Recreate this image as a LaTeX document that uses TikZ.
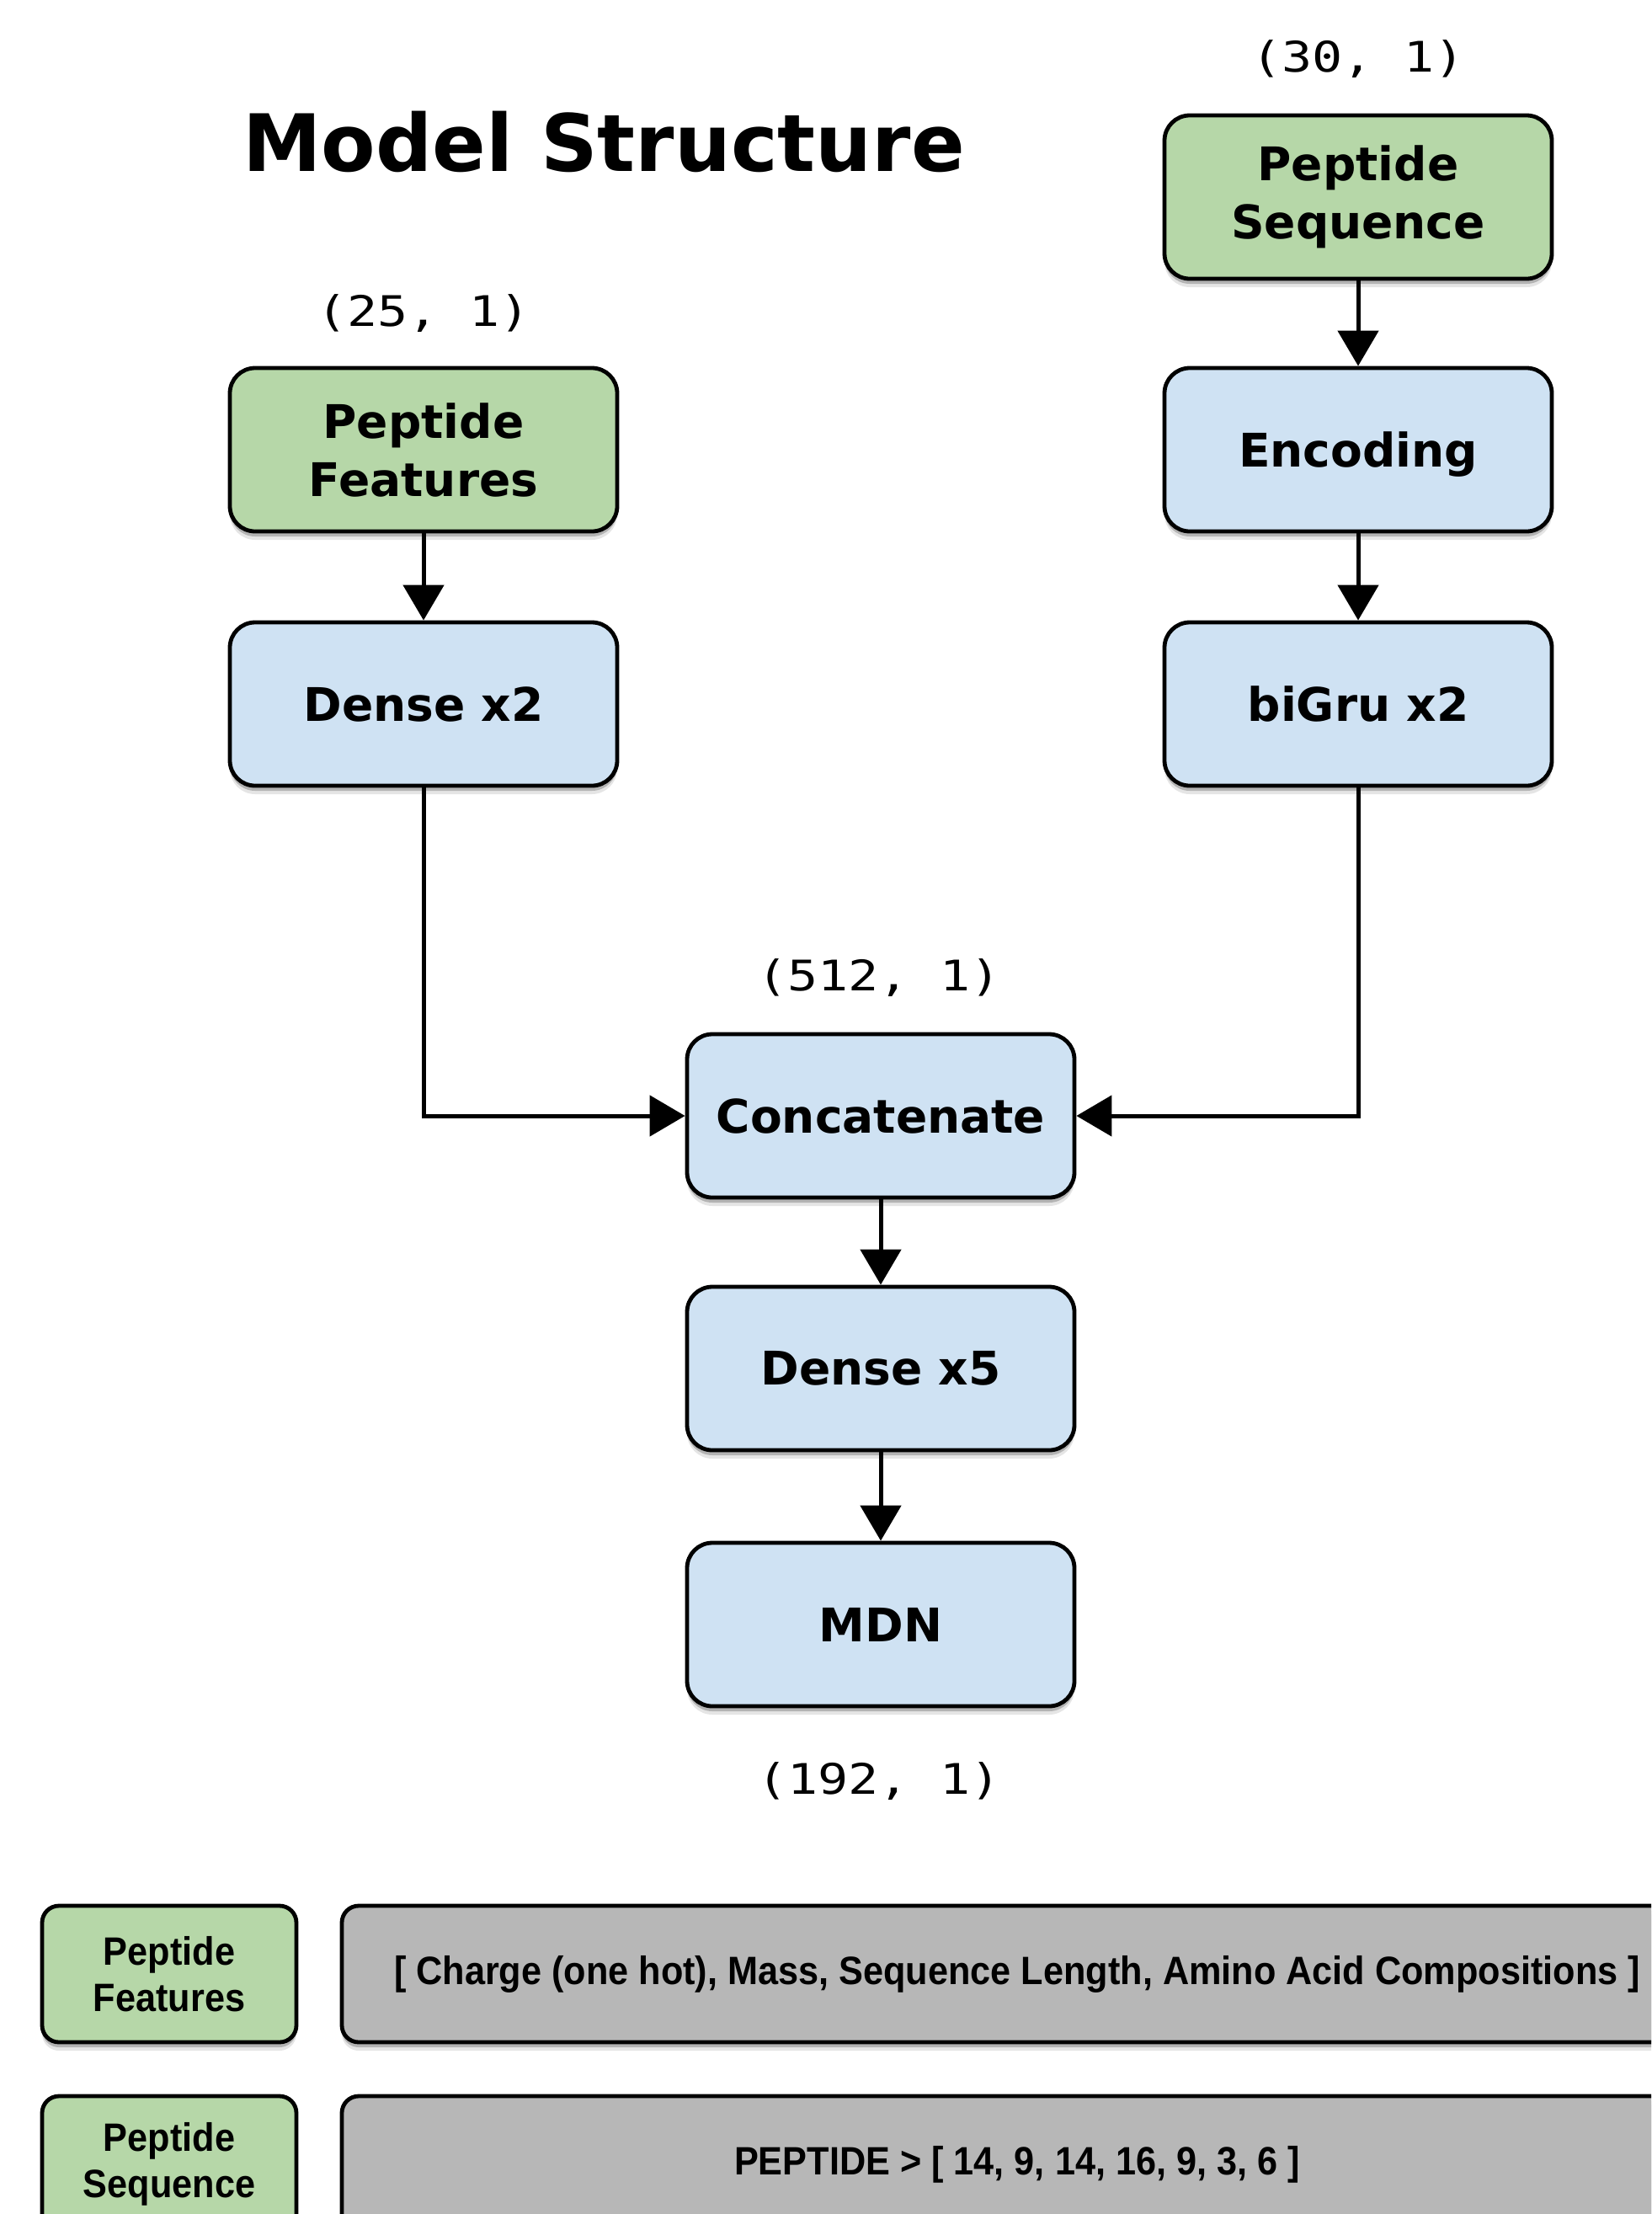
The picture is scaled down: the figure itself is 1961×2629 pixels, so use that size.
\documentclass[tikz,border=0pt]{standalone}
\usepackage{fontspec}
\setmainfont{DejaVu Sans}
\newfontfamily\monof[FakeStretch=1.2]{DejaVu Sans Mono}
\newfontfamily\narrowf[FakeStretch=0.92]{Liberation Sans}
\usetikzlibrary{arrows.meta,shadows}
\definecolor{gfill}{HTML}{B6D7A8}
\definecolor{bfill}{HTML}{CFE2F3}
\definecolor{grfill}{HTML}{B7B7B7}
\tikzset{
  softshadow/.style={
    general shadow={shadow xshift=0pt, shadow yshift=-5pt, fill=black, opacity=0.10},
    general shadow={shadow xshift=0pt, shadow yshift=-3pt, fill=black, opacity=0.22}},
  bigbox/.style={draw=black, line width=2.4pt, rounded corners=15pt, minimum width=230pt,
    minimum height=97pt, inner sep=0pt, align=center, softshadow,
    font=\fontsize{27.5}{34.5}\selectfont\bfseries},
  greenbox/.style={bigbox, fill=gfill},
  bluebox/.style={bigbox, fill=bfill},
  shapelbl/.style={font=\monof\fontsize{25}{30}\selectfont, inner sep=0pt},
  legkey/.style={draw=black, line width=2.4pt, rounded corners=10pt, fill=gfill, minimum width=151pt,
    minimum height=81pt, inner sep=0pt, align=center, softshadow,
    font=\narrowf\bfseries\fontsize{23.5}{27.5}\selectfont},
  legval/.style={draw=black, line width=2.4pt, rounded corners=10pt, fill=grfill, minimum width=802pt,
    minimum height=81pt, inner sep=0pt, align=center, softshadow,
    font=\narrowf\bfseries\fontsize{23.5}{27.5}\selectfont},
  arr/.style={line width=2.5pt, -{Triangle[length=21pt,width=24pt]}}
}
\begin{document}
\begin{tikzpicture}[x=0.5pt,y=-0.5pt]
\useasboundingbox (0,0) rectangle (1961,2629);
\clip (0,0) rectangle (1961,2629);
\node[font=\fontsize{47}{56}\selectfont\bfseries, inner sep=0pt] (title) at (717,168) {Model Structure};

\node[shapelbl] (l30) at (1613,70) {(30, 1)};
\node[greenbox] (pseq) at (1613,234) {Peptide\\Sequence};
\node[bluebox, text depth=0pt] (enc) at (1613,534) {Encoding};
\node[bluebox] (bigru) at (1613,836) {biGru x2};

\node[shapelbl] (l25) at (503,372) {(25, 1)};
\node[greenbox] (pfeat) at (503,534) {Peptide\\Features};
\node[bluebox] (dense2) at (503,836) {Dense x2};

\node[shapelbl] (l512) at (1044,1161) {(512, 1)};
\node[bluebox] (concat) at (1046,1325) {Concatenate};
\node[bluebox] (dense5) at (1046,1625) {Dense x5};
\node[bluebox] (mdn) at (1046,1929) {MDN};
\node[shapelbl] (l192) at (1044,2115) {(192, 1)};

\draw[arr] (pseq.south) -- (enc.north);
\draw[arr] (enc.south) -- (bigru.north);
\draw[arr] (pfeat.south) -- (dense2.north);
\draw[arr] (dense2.south) |- (concat.west);
\draw[arr] (bigru.south) |- (concat.east);
\draw[arr] (concat.south) -- (dense5.north);
\draw[arr] (dense5.south) -- (mdn.north);

\node[legkey] (kfeat) at (201,2344) {Peptide\\Features};
\node[legval] (vfeat) at (1208,2344) {[ Charge (one hot), Mass, Sequence Length, Amino Acid Compositions ]};
\node[legkey] (kseq) at (201,2570) {Peptide\\Sequence};
\node[legval] (vseq) at (1208,2570) {PEPTIDE > [ 14, 9, 14, 16, 9, 3, 6 ]};
\end{tikzpicture}
\end{document}
